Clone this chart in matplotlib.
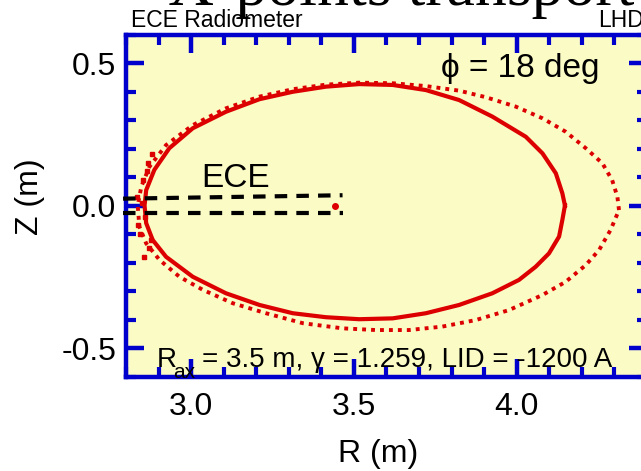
import matplotlib
matplotlib.use('Agg')
import matplotlib.pyplot as plt
from matplotlib.ticker import MultipleLocator

plt.rcParams['font.family'] = ['Liberation Sans', 'DejaVu Sans']

# ---- data (R in m, Z in m) ----
r_inner = [4.148, 4.140, 4.120, 4.079, 4.028, 3.925, 3.823, 3.721, 3.619, 3.516,
           3.414, 3.312, 3.210, 3.107, 3.005, 2.933, 2.887, 2.862, 2.857, 2.862,
           2.882, 2.923, 3.005, 3.107, 3.210, 3.312, 3.414, 3.516, 3.619, 3.721,
           3.823, 3.925, 4.007, 4.058, 4.099, 4.130, 4.140, 4.148]
z_inner = [0.000, 0.043, 0.113, 0.183, 0.241, 0.312, 0.370, 0.405, 0.423, 0.426,
           0.417, 0.399, 0.373, 0.329, 0.271, 0.201, 0.125, 0.054, 0.000, -0.062,
           -0.121, -0.180, -0.250, -0.308, -0.349, -0.378, -0.392, -0.399, -0.396, -0.378,
           -0.349, -0.308, -0.261, -0.215, -0.168, -0.109, -0.051, 0.000]

r_outer = [4.314, 4.309, 4.293, 4.263, 4.212, 4.150, 4.079, 3.997, 3.905, 3.823,
           3.721, 3.619, 3.516, 3.414, 3.312, 3.210, 3.107, 3.005, 2.923, 2.872,
           2.847, 2.836, 2.841, 2.862, 2.903, 2.964, 3.036, 3.128, 3.230, 3.343,
           3.465, 3.567, 3.669, 3.771, 3.874, 3.976, 4.079, 4.150, 4.212, 4.253,
           4.288, 4.314]
z_outer = [-0.016, 0.031, 0.089, 0.148, 0.201, 0.259, 0.306, 0.347, 0.380, 0.403,
           0.419, 0.429, 0.431, 0.424, 0.408, 0.382, 0.341, 0.282, 0.212, 0.136,
           0.066, 0.000, -0.074, -0.133, -0.191, -0.250, -0.296, -0.343, -0.378, -0.413,
           -0.431, -0.437, -0.437, -0.425, -0.402, -0.367, -0.314, -0.268, -0.209, -0.156,
           -0.086, -0.016]

# stray points near the inner (left) edge
stray_r = [2.835, 2.852, 2.858, 2.842, 2.868, 2.872, 2.848, 2.880, 2.838, 2.866, 2.876, 2.856]
stray_z = [0.030, 0.090, -0.040, -0.100, 0.150, -0.150, 0.010, 0.180, -0.070, 0.120, -0.120, -0.180]

axis_point_r = [3.443]
axis_point_z = [0.000]

ece_r = [2.791, 3.465]
ece_upper_z = [0.024, 0.036]
ece_lower_z = [-0.025, -0.025]

xlim = (2.80, 4.40)
ylim = (-0.60, 0.60)
xticks = [3.0, 3.5, 4.0]
xtick_labels = ['3.0', '3.5', '4.0']
yticks = [-0.5, 0.0, 0.5]
ytick_labels = ['-0.5', '0.0', '0.5']

BLUE = '#0000cc'
RED = '#dd0000'
BG = '#fbfbc6'

fig = plt.figure(figsize=(6.41, 4.71), dpi=100)
ax = fig.add_axes([126 / 641, 1 - 376.5 / 471, (647 - 126) / 641, (376.5 - 34.5) / 471])
ax.set_facecolor(BG)
ax.set_xlim(*xlim)
ax.set_ylim(*ylim)

ax.plot(r_inner, z_inner, color=RED, lw=3.0, solid_joinstyle='round', zorder=2)
ax.plot(r_outer, z_outer, color=RED, lw=2.8, linestyle=(0, (1.0, 1.3)), zorder=2)
ax.plot(stray_r, stray_z, 's', color=RED, ms=3.2, zorder=2)
ax.plot(axis_point_r, axis_point_z, 'o', color=RED, ms=4, zorder=2)

for zz in (ece_upper_z, ece_lower_z):
    ln, = ax.plot(ece_r, zz, color='black', lw=3, zorder=4, clip_on=False)
    ln.set_dashes((3, 2.2))

for s in ax.spines.values():
    s.set_color(BLUE)
    s.set_linewidth(3.2)

ax.set_xticks(xticks)
ax.set_xticklabels(xtick_labels)
ax.set_yticks(yticks)
ax.set_yticklabels(ytick_labels)
ax.xaxis.set_minor_locator(MultipleLocator(0.1))
ax.yaxis.set_minor_locator(MultipleLocator(0.1))
ax.tick_params(which='both', direction='in', top=True, right=True, color=BLUE,
               labelsize=23, labelcolor='black')
ax.tick_params(which='major', length=13, width=3.2)
ax.tick_params(which='minor', length=7, width=3)
ax.tick_params(axis='x', which='major', pad=11)
ax.tick_params(axis='y', which='major', pad=7)

ax.text(3.137, 0.066, 'ECE', fontsize=24, ha='center', va='baseline', zorder=5)
ax.text(4.255, 0.452, '\u03d5 = 18 deg', fontsize=24, ha='right', va='baseline', zorder=5)
# parameter line: R with a low subscript "ax"
ax.text(2.893, -0.566, 'R', fontsize=20, ha='left', va='baseline', zorder=5)
ax.text(2.945, -0.604, 'ax', fontsize=15, ha='left', va='baseline', zorder=5, clip_on=False)
ax.text(3.034, -0.566, '= 3.5 m, \u03b3 = 1.259, LID = -1200 A', fontsize=20,
        ha='left', va='baseline', zorder=5)

fig.text(30 / 641, 1 - 197 / 471, 'Z (m)', rotation=90, fontsize=23, ha='center', va='center')
fig.text(378 / 641, 1 - 454 / 471, 'R (m)', fontsize=23, ha='center', va='center')
fig.text(131 / 641, 1 - 27 / 471, 'ECE Radiometer', fontsize=16.5, ha='left', va='baseline')
fig.text(598 / 641, 1 - 27 / 471, 'LHD', fontsize=16.5, ha='left', va='baseline')
fig.text(168 / 641, 1 - 5 / 471, 'X-points transport', fontsize=46, ha='left', va='baseline',
         family=['Liberation Serif', 'DejaVu Serif'])

fig.savefig('out.png', dpi=100)
